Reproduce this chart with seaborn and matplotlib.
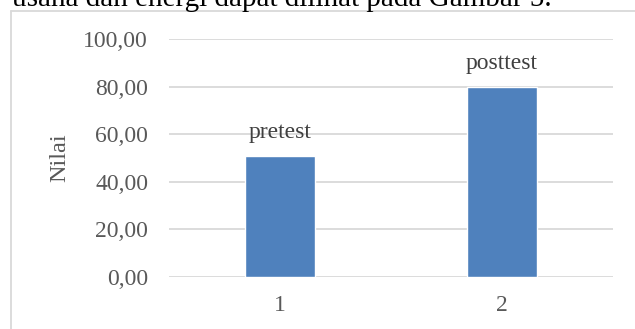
import matplotlib
matplotlib.use("Agg")
import matplotlib.pyplot as plt
import seaborn as sns
import pandas as pd
from matplotlib.lines import Line2D

# Data
categories = ["1", "2"]
values = [51.0, 80.0]
bar_labels = ["pretest", "posttest"]
y_ticks = [0, 20, 40, 60, 80, 100]
y_tick_labels = ["0,00", "20,00", "40,00", "60,00", "80,00", "100,00"]

df = pd.DataFrame({"kategori": categories, "nilai": values})

sns.set_theme(style="white")
plt.rcParams["font.family"] = ["Liberation Serif", "DejaVu Serif"]

fig = plt.figure(figsize=(6.35, 3.29), dpi=100)
ax = fig.add_axes([0.266, 0.158, 0.699, 0.7225])

sns.barplot(data=df, x="kategori", y="nilai", color="#4f81bd", width=0.315,
            saturation=1, ax=ax, zorder=3)

ax.set_ylim(0, 100)
ax.set_yticks(y_ticks)
ax.set_yticklabels(y_tick_labels)
ax.yaxis.grid(True, color="#d9d9d9", linewidth=1.3, zorder=0)
ax.set_axisbelow(True)
for s in ax.spines.values():
    s.set_visible(False)
ax.tick_params(axis="both", length=0, labelsize=17, colors="#595959")
ax.tick_params(axis="y", pad=15)
ax.tick_params(axis="x", pad=13)
ax.set_xlabel("")
ax.set_ylabel("Nilai", fontsize=17.5, color="#595959")
ax.yaxis.set_label_coords(-0.223, 0.5)

for patch, lab in zip(ax.patches, bar_labels):
    ax.annotate(lab, (patch.get_x() + patch.get_width() / 2, patch.get_height()),
                xytext=(0, 13), textcoords="offset points",
                ha="center", va="baseline", fontsize=17, color="#404040")

# Chart frame
fig.add_artist(Line2D([11 / 635, 11 / 635], [0, 1 - 10.5 / 329],
                      transform=fig.transFigure, color="#d9d9d9", lw=1.3))
fig.add_artist(Line2D([11 / 635, 1], [1 - 10.5 / 329, 1 - 10.5 / 329],
                      transform=fig.transFigure, color="#d9d9d9", lw=1.3))

# Surrounding body text
fig.text(12 / 635, 1 - 6 / 329, "usaha dan energi dapat dilihat pada Gambar 5.",
         fontsize=21, color="black", va="baseline", ha="left")

fig.savefig("out.png", dpi=100)
